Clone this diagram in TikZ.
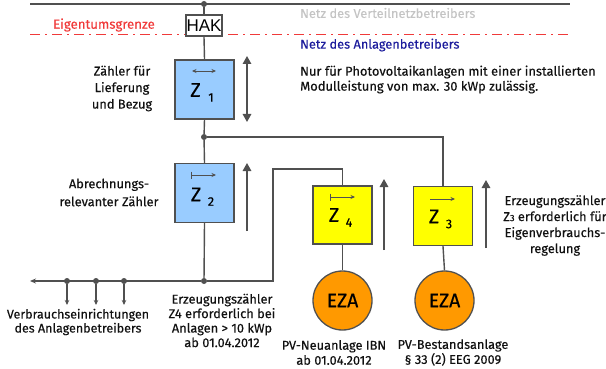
\documentclass[tikz,border=0pt]{standalone}
\usepackage{fontspec}
\setmainfont{Fira Sans}[FakeBold=0.35]
\newfontfamily\hakfont{Liberation Sans}
\usetikzlibrary{arrows.meta}
\definecolor{linegray}{HTML}{505050}
\definecolor{zblue}{HTML}{99CCFF}
\definecolor{zyellow}{HTML}{FFFF00}
\definecolor{ezaorange}{HTML}{FF9900}
\definecolor{redline}{HTML}{F03A3A}
\definecolor{navytext}{HTML}{1C1C9C}
\definecolor{lightgraytext}{HTML}{C4C4C4}
\definecolor{txt}{HTML}{111111}
\tikzset{
  wire/.style={draw=linegray, line width=1.4pt},
  meterbox/.style={draw=linegray, line width=1.4pt, minimum width=59pt, minimum height=59pt, inner sep=0pt},
  ezacircle/.style={circle, draw=linegray, line width=1.3pt, fill=ezaorange, minimum size=59pt, inner sep=0pt, font=\fontsize{19.5}{19.5}\selectfont},
  dirarrow/.style={draw=linegray, line width=1.6pt, -{Triangle[length=8pt,width=8.5pt]}},
  dirarrowboth/.style={draw=linegray, line width=1.6pt, {Triangle[length=8pt,width=8.5pt]}-{Triangle[length=8pt,width=8.5pt]}},
  smallarrow/.style={draw=linegray, line width=0.9pt, -{Stealth[length=4.5pt,width=4pt]}},
  junction/.style={circle, fill=linegray, minimum size=6pt, inner sep=0pt},
  lbl/.style={inner sep=0pt, align=center, text=txt},
  zletter/.style={inner sep=0pt, font=\fontsize{20}{20}\selectfont, text=black},
  zsub/.style={inner sep=0pt, font=\fontsize{12.5}{12.5}\selectfont, text=black},
  downarrow/.style={draw=linegray, line width=1.1pt, -{Stealth[length=5pt,width=4.5pt]}}
}
\begin{document}
\begin{tikzpicture}[x=1pt,y=-1pt]
\useasboundingbox (0,0) rectangle (606,369);
% top line and red border
\coordinate (tl) at (30,4);
\coordinate (tr) at (570,4);
\draw[wire] (tl) -- (tr);
\coordinate (rl) at (30,34.5);
\coordinate (rr) at (570,34.5);
\draw[draw=redline, line width=1.4pt, dash pattern=on 10pt off 5pt on 2pt off 5pt] (rl) -- (rr);
\node[junction] (hakdot) at (204,4) {};
\node[draw=linegray, line width=1.3pt, fill=white, minimum width=36pt, minimum height=21pt, inner sep=0pt, font=\hakfont\fontsize{17}{17}\selectfont] (hak) at (204,25.5) {HAK};
\draw[wire] (hakdot) -- (hak.north);

% texts top
\node[lbl, text=redline, font=\fontsize{13.2}{14}\selectfont] (eig) at (104,25) {Eigentumsgrenze};
\node[lbl, anchor=west, text=lightgraytext, font=\fontsize{12.8}{14}\selectfont] (nvn) at (300,13) {Netz des Verteilnetzbetreibers};
\node[lbl, anchor=west, text=navytext, font=\fontsize{12.8}{14}\selectfont] (nan) at (300,45) {Netz des Anlagenbetreibers};
\node[lbl, anchor=west, align=left, font=\fontsize{12.9}{15}\selectfont] (nur) at (300,79.5) {Nur für Photovoltaikanlagen mit einer installierten\\Modulleistung von max. 30 kWp zulässig.};

% meters
\node[meterbox, fill=zblue] (z1) at (204.5,89.5) {};
\node[meterbox, fill=zblue] (z2) at (204.5,193) {};
\node[meterbox, fill=zyellow, minimum height=58pt] (z4) at (342.5,215) {};
\node[meterbox, fill=zyellow] (z3) at (443,216) {};

\node[zletter] at (195.5,90) {Z};
\node[zsub] at (211,97.5) {1};
\node[zletter] at (196,194.5) {Z};
\node[zsub] at (211,201.5) {2};
\node[zletter] at (334,215) {Z};
\node[zsub] at (349,222.5) {4};
\node[zletter] at (434,216.5) {Z};
\node[zsub] at (449,224) {3};

% small arrows in boxes
\draw[draw=linegray, line width=0.9pt, {Stealth[length=4.5pt,width=4pt]}-{Stealth[length=4.5pt,width=4pt]}] (192,71) -- (216,71);
\draw[smallarrow] (191.5,175) -- (216,175);
\draw[draw=linegray, line width=0.9pt] (191.5,171.5) -- (191.5,178.5);
\draw[smallarrow] (330,197) -- (355,197);
\draw[draw=linegray, line width=0.9pt] (330,193.5) -- (330,200.5);
\draw[smallarrow] (430,199) -- (455,199);

% wiring
\draw[wire] (hak.south) -- (z1.north);
\node[junction] (j1) at (204,137) {};
\draw[wire] (z1.south) -- (j1);
\draw[wire] (j1) -- (z2.north);
\draw[wire] (j1) -| (z3.north);
\node[junction] (j2) at (204,281) {};
\draw[wire] (z2.south) -- (j2);
\coordinate (w1) at (273,281);
\coordinate (w2) at (273,169);
\coordinate (w3) at (342.5,169);
\draw[wire] (j2) -- (w1) -- (w2) -- (w3) -- (z4.north);

% load line
\coordinate (lend) at (30,281);
\draw[wire, -{Stealth[length=6pt,width=5pt]}] (j2) -- (lend);
\node[junction] (d1) at (67,281) {};
\node[junction] (d2) at (96,281) {};
\node[junction] (d3) at (124,281) {};
\coordinate (a1) at (67,305);
\coordinate (a2) at (96,305);
\coordinate (a3) at (124,305);
\draw[downarrow] (d1) -- (a1);
\draw[downarrow] (d2) -- (a2);
\draw[downarrow] (d3) -- (a3);

% EZA
\node[ezacircle] (e1) at (342.5,300.5) {EZA};
\node[ezacircle] (e2) at (444.5,300.5) {EZA};
\draw[wire] (z4.south) -- (e1.north);
\draw[wire] (z3.south) -- (e2.north);

% direction arrows
\coordinate (s1a) at (247,56);
\coordinate (s1b) at (247,122);
\draw[dirarrowboth] (s1a) -- (s1b);
\coordinate (s2a) at (247,231);
\coordinate (s2b) at (247,163);
\draw[dirarrow] (s2a) -- (s2b);
\coordinate (s4a) at (384,250);
\coordinate (s4b) at (384,179);
\draw[dirarrow] (s4a) -- (s4b);
\coordinate (s3a) at (486,248);
\coordinate (s3b) at (486,180);
\draw[dirarrow] (s3a) -- (s3b);

% labels
\node[lbl, font=\fontsize{12.8}{16.5}\selectfont] (l1) at (122,88.5) {Zähler für\\Lieferung\\und Bezug};
\node[lbl, font=\fontsize{12.8}{18}\selectfont] (l2) at (109,192.5) {Abrechnungs-\\relevanter Zähler};
\node[lbl, font=\fontsize{12.5}{14}\selectfont] (l3) at (78,322) {Verbrauchseinrichtungen\\des Anlagenbetreibers};
\node[lbl, font=\fontsize{12.8}{14.5}\selectfont] (l4) at (222,320.5) {Erzeugungszähler\\Z4 erforderlich bei\\Anlagen > 10 kWp\\ab 01.04.2012};
\node[lbl, font=\fontsize{12.8}{15}\selectfont] (l5) at (334,352.5) {PV-Neuanlage IBN\\ab 01.04.2012};
\node[lbl, font=\fontsize{12.8}{15}\selectfont] (l6) at (453,352.5) {PV-Bestandsanlage\\§ 33 (2) EEG 2009};
\node[lbl, font=\fontsize{12.8}{16}\selectfont] (l7) at (555,225.5) {Erzeugungszähler\\Z{\fontsize{9}{9}\selectfont 3} erforderlich für\\Eigenverbrauchs-\\regelung};
\end{tikzpicture}
\end{document}
